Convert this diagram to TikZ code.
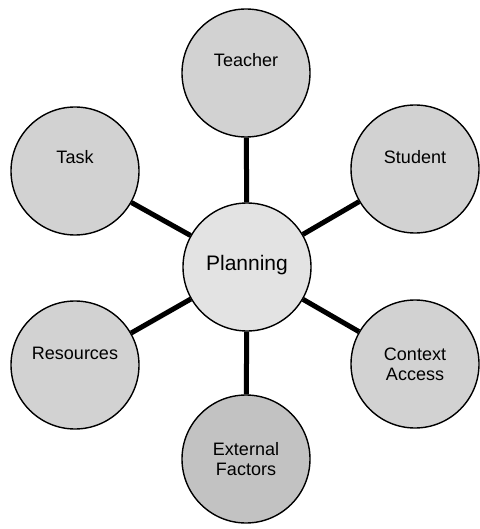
\documentclass[tikz,border=0pt]{standalone}
\usepackage{fontspec}
\setmainfont{Liberation Sans}
\begin{document}
\begin{tikzpicture}[x=1pt,y=-1pt,
  bubble/.style={circle,draw=black,line width=1.4pt,fill=gray!35,minimum size=128pt,inner sep=0pt,align=center,font=\fontsize{18}{20}\selectfont},
  link/.style={line width=5pt,black}]
\useasboundingbox (0,0) rectangle (479,529);
\node[bubble,fill=gray!22,font=\fontsize{21}{24}\selectfont] (plan) at (247,267) {\raisebox{8pt}{Planning}};
\node[bubble] (teacher) at (246,73) {\raisebox{26pt}{Teacher}};
\node[bubble] (student) at (415,169) {\raisebox{24pt}{Student}};
\node[bubble] (task) at (75,171) {\raisebox{28pt}{Task}};
\node[bubble] (res) at (75,365) {\raisebox{24pt}{Resources}};
\node[bubble] (ctx) at (415,364) {Context\\Access};
\node[bubble,fill=gray!48] (ext) at (246,459) {External\\Factors};
\draw[link] (plan) -- (teacher);
\draw[link] (plan) -- (student);
\draw[link] (plan) -- (task);
\draw[link] (plan) -- (res);
\draw[link] (plan) -- (ctx);
\draw[link] (plan) -- (ext);
\end{tikzpicture}
\end{document}
